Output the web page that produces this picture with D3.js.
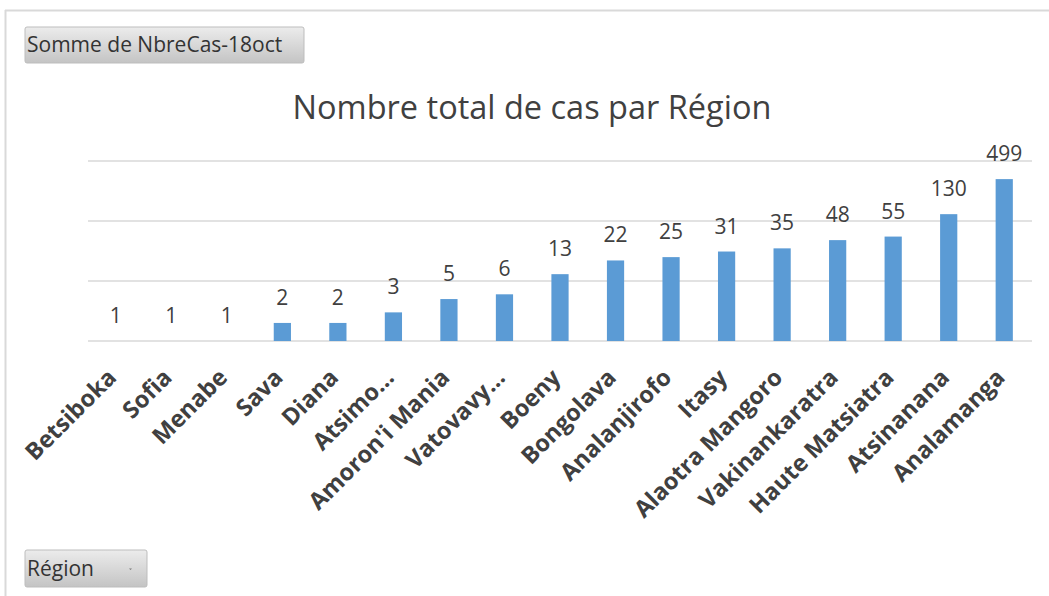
<!DOCTYPE html>
<html>
<head>
<meta charset="utf-8">
<script src="https://cdn.jsdelivr.net/npm/d3@7"></script>
<style>
  body { margin: 0; background: #fff; }
  svg { display: block; font-family: "Open Sans", sans-serif; }
</style>
</head>
<body>
<script>
const regions = ['Betsiboka', 'Sofia', 'Menabe', 'Sava', 'Diana', 'Atsimo…', "Amoron'i Mania", 'Vatovavy…',
  'Boeny', 'Bongolava', 'Analanjirofo', 'Itasy', 'Alaotra Mangoro', 'Vakinankaratra', 'Haute Matsiatra',
  'Atsinanana', 'Analamanga'];
const cases = [1, 1, 1, 2, 2, 3, 5, 6, 13, 22, 25, 31, 35, 48, 55, 130, 499];
const gridValues = [1, 10, 100, 1000];

const [w, h] = [1049, 596];
const svg = d3.select('body').append('svg').attr('width', w).attr('height', h);

const defs = svg.append('defs');
const grad = defs.append('linearGradient').attr('id', 'btn').attr('x1', 0).attr('y1', 0).attr('x2', 0).attr('y2', 1);
grad.append('stop').attr('offset', '0%').attr('stop-color', '#ececec');
grad.append('stop').attr('offset', '100%').attr('stop-color', '#c4c4c4');

// outer frame
svg.append('line').attr('x1', 5).attr('x2', w).attr('y1', 10.5).attr('y2', 10.5).attr('stroke', '#d9d9d9').attr('stroke-width', 2);
svg.append('line').attr('x1', 5.5).attr('x2', 5.5).attr('y1', 10).attr('y2', h).attr('stroke', '#d9d9d9').attr('stroke-width', 2);

// field buttons
const btn = (x, y, bw, bh, label) => {
  const g = svg.append('g').attr('transform', `translate(${x},${y})`);
  g.append('rect').attr('width', bw).attr('height', bh).attr('rx', 2).attr('fill', 'url(#btn)').attr('stroke', '#bdbdbd');
  g.append('text').attr('x', 2).attr('y', bh / 2 + 7).attr('font-size', 21).attr('fill', '#333').text(label);
  return g;
};
btn(25, 27, 279, 36, 'Somme de NbreCas-18oct');
const rb = btn(25, 550, 122, 37, 'Région');
rb.append('path').attr('d', 'M104,18.5 h3 l-1.5,1.5 z').attr('fill', '#777');

// title
svg.append('text').attr('x', 532).attr('y', 119).attr('text-anchor', 'middle')
  .attr('font-size', 32.5).attr('fill', '#404040').text('Nombre total de cas par Région');

const x = d3.scaleBand().domain(regions).range([88, 1032]).paddingInner(0.69).paddingOuter(0.345);
const y = d3.scaleLog().domain([1, 1000]).range([341, 161]);

svg.append('g').selectAll('line').data(gridValues).enter().append('line')
  .attr('x1', 88).attr('x2', 1032)
  .attr('y1', d => y(d)).attr('y2', d => y(d))
  .attr('stroke', '#d9d9d9').attr('stroke-width', 1.5);

svg.append('g').selectAll('rect').data(cases).enter().append('rect')
  .attr('x', (d, i) => x(regions[i]))
  .attr('width', x.bandwidth())
  .attr('y', d => y(d))
  .attr('height', d => y(1) - y(d))
  .attr('fill', '#5b9bd5');

svg.append('g').selectAll('text').data(cases).enter().append('text')
  .attr('x', (d, i) => x(regions[i]) + x.bandwidth() / 2)
  .attr('y', d => y(d) - 18)
  .attr('text-anchor', 'middle')
  .attr('font-size', 21).attr('fill', '#404040')
  .text(d => d);

svg.append('g').selectAll('text').data(regions).enter().append('text')
  .attr('transform', d => `translate(${x(d) + x.bandwidth() / 2 + 2},${379}) rotate(-45)`)
  .attr('text-anchor', 'end')
  .attr('font-size', 23.5).attr('font-weight', 'bold').attr('fill', '#404040')
  .text(d => d);
</script>
</body>
</html>
